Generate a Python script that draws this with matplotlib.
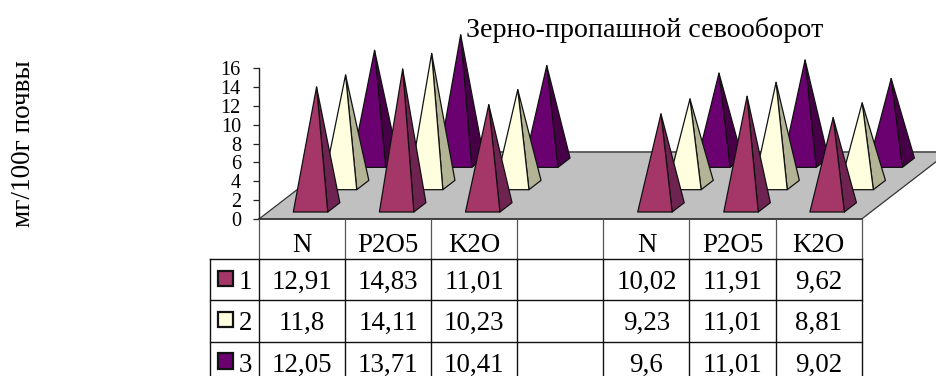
import math
import matplotlib
matplotlib.use("Agg")
import matplotlib.pyplot as plt
from matplotlib.patches import Polygon, Rectangle

categories = ["N", "P2O5", "K2O", "", "N", "P2O5", "K2O"]
series_names = ["1", "2", "3"]
series_1 = [12.91, 14.83, 11.01, math.nan, 10.02, 11.91, 9.62]
series_2 = [11.8, 14.11, 10.23, math.nan, 9.23, 11.01, 8.81]
series_3 = [12.05, 13.71, 10.41, math.nan, 9.6, 11.01, 9.02]
y_ticks = list(range(0, 17, 2))
title = "Зерно-пропашной севооборот"
y_label = "мг/100г почвы"

front_cols = ["#A53768", "#FFFFE0", "#6B0070"]
side_cols = ["#6F2350", "#B3B396", "#470047"]
all_series = [series_1, series_2, series_3]

W, H = 937, 376
plt.rcParams["font.family"] = ["Liberation Serif", "DejaVu Serif"]
fig = plt.figure(figsize=(W / 100, H / 100), dpi=100)

L, R, B, T = 259, 861.7, 219, 68.3
ax = fig.add_axes([L / W, 1 - B / H, (R - L) / W, (B - T) / H])
ax.set_xlim(0, len(categories))
ax.set_ylim(0, 16)
ax.patch.set_visible(False)
for s in ("top", "right", "bottom"):
    ax.spines[s].set_visible(False)
ax.spines["left"].set_linewidth(1.0)
ax.spines["left"].set_color("#222222")
ax.set_xticks([])
ax.set_yticks(y_ticks)
ax.tick_params(axis="y", length=4.5, width=0.9, labelsize=14.6, pad=8.5, color="#222222")

DX = 29.0 / ((R - L) / len(categories))   # category units per series depth
DY = 22.33 / ((B - T) / 16)               # value units per series depth
VK = 0.99


def proj(x, v, d):
    return (x + d * DX, v * VK + d * DY)


# floor
floor = Polygon([proj(0, 0, 0), proj(7, 0, 0), proj(7, 0, 3), proj(0, 0, 3)],
                closed=True, fc="#C0C0C0", ec="none", clip_on=False, zorder=1)
ax.add_patch(floor)
fx, fy = zip(proj(0, 0, 3), proj(7, 0, 3))
ax.plot(fx, fy, color="#555555", lw=1.3, zorder=2, clip_on=False)
fx, fy = zip(proj(0, 0, 0), proj(0, 0, 3))
ax.plot(fx, fy, color="#333333", lw=0.9, zorder=2, clip_on=False)
fx, fy = zip(proj(7, 0, 0), proj(7, 0, 3))
ax.plot(fx, fy, color="#333333", lw=0.9, zorder=2, clip_on=False)
fx, fy = zip(proj(0, 0, 0), proj(7, 0, 0))
ax.plot(fx, fy, color="#333333", lw=1.3, zorder=2, clip_on=False)

X0, BW, DF, DB = 0.293, 0.40, 0.313, 0.73
z = 3
for s in (2, 1, 0):
    for i, v in enumerate(all_series[s]):
        if math.isnan(v):
            continue
        fl = proj(i + X0, 0, s + DF)
        fr = proj(i + X0 + BW, 0, s + DF)
        br = proj(i + X0 + BW, 0, s + DB)
        apex = proj(i + X0 + BW / 2, v, s + (DF + DB) / 2)
        ax.add_patch(Polygon([fr, br, apex], closed=True, fc=side_cols[s], ec="#111111",
                             lw=0.9, zorder=z, clip_on=False, joinstyle="round"))
        ax.add_patch(Polygon([fl, fr, apex], closed=True, fc=front_cols[s], ec="#111111",
                             lw=0.9, zorder=z, clip_on=False, joinstyle="round"))
        z += 1

# everything below is placed in image pixels
ov = fig.add_axes([0, 0, 1, 1], zorder=5)
ov.set_xlim(0, W)
ov.set_ylim(H, 0)
ov.axis("off")

col_w = (R - L) / len(categories)
rows_y = [B, 259, 300.3, 341.7, 383]
FS = 19.4
GRID = "#111111"
for j in range(len(categories) + 1):
    x = L + j * col_w
    ov.plot([x, x], [B, 259], color="#555555", lw=0.9)
    ov.plot([x, x], [259, H], color=GRID, lw=1.0)
for y in rows_y[1:-1]:
    ov.plot([210, R], [y, y], color=GRID, lw=1.0)
ov.plot([210, 210], [259, H], color=GRID, lw=1.0)

for j, c in enumerate(categories):
    ov.text(L + (j + .5) * col_w, 252.5, c, ha="center", va="baseline", fontsize=FS)
for r, vals in enumerate(all_series):
    base = rows_y[r + 1] + 30
    for j, v in enumerate(vals):
        if not math.isnan(v):
            ov.text(L + (j + .5) * col_w, base, str(v).replace(".", ","),
                    ha="center", va="baseline", fontsize=FS)
    ov.add_patch(Rectangle((218, rows_y[r + 1] + 11.5), 15.5, 15.5, fc=front_cols[r],
                           ec="#111111", lw=1.6))
    ov.text(238.5, base, series_names[r], ha="left", va="baseline", fontsize=FS)

ov.text(644.5, 37, title, ha="center", va="baseline", fontsize=20.2)
ov.text(24, 144, y_label, rotation=90, ha="center", va="center", fontsize=19.6)

fig.savefig("out.png", dpi=100)
